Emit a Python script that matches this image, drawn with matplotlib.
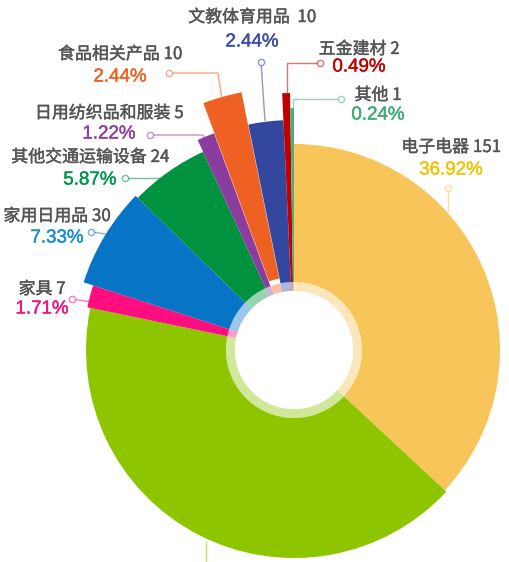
import numpy as np
import matplotlib
matplotlib.use("Agg")
import matplotlib.pyplot as plt
import matplotlib.patheffects as pe
from matplotlib.patches import Wedge, Circle
from matplotlib.colors import to_rgba

plt.rcParams['font.family'] = ['Noto Sans CJK SC', 'DejaVu Sans']

# data, clockwise from 12 o'clock
categories = ["电子电器", "家用电器", "家具", "家用日用品", "其他交通运输设备",
              "日用纺织品和服装", "食品相关产品", "文教体育用品", "五金建材", "其他"]
counts = [151, 169, 7, 30, 24, 5, 10, 10, 2, 1]
pct_labels = ["36.92%", "41.32%", "1.71%", "7.33%", "5.87%",
              "1.22%", "2.44%", "2.44%", "0.49%", "0.24%"]

# style / layout
colors = ["#F8C55B", "#8DC500", "#FF0E80", "#0874C6", "#00923F",
          "#8A3D9E", "#EE6122", "#34479E", "#C00000", "#4CAF7A"]
text_colors = ["#F2C300", "#8DC500", "#F0147E", "#1A8ED6", "#00974A",
               "#8E3FA3", "#EE6122", "#3A4EA8", "#C00000", "#3DAA72"]
outer_r = [206, 208, 211, 221, 218, 231, 258, 230, 257, 242]
explode = [0, 0, 0, 0, 0, 0, 5, 0, 0, 0]
CX, CY = 294, 350
R_SLICE = 68
R_HOLE = 59

# label centres (x, name line y, pct line y) in pixels
label_pos = {
    0: (451, 147, 170),
    2: (42, 289, 309),
    3: (57, 216, 238),
    4: (90, 157, 180),
    5: (109, 113, 134),
    6: (120, 54, 77),
    7: (252, 17, 42),
    8: (359, 49, 67),
    9: (378, 95, 115),
}
name_fmt = {7: "{}  {}"}
leaders = {
    0: [(448, 188), (448, 212)],
    1: [(206, 580), (206, 541)],
    2: [(72, 299), (92, 302)],
    3: [(91, 232), (106, 234)],
    4: [(125, 178), (164, 178)],
    5: [(150, 135), (203, 135), (206, 141)],
    6: [(169, 73), (218, 73), (222, 99)],
    7: [(261, 62), (265, 121)],
    8: [(320, 63), (287, 63), (287, 93)],
    9: [(341, 99), (293, 99), (293, 108)],
}

fig = plt.figure(figsize=(5.09, 5.62), dpi=100)
ax = fig.add_axes([0, 0, 1, 1])
ax.set_xlim(0, 509)
ax.set_ylim(562, 0)
ax.axis("off")

total = sum(counts)
start = 0.0
for i, c in enumerate(counts):
    span = 360.0 * c / total
    mid = np.deg2rad(start + span / 2)
    cx = CX + explode[i] * np.sin(mid)
    cy = CY - explode[i] * np.cos(mid)
    # y axis is inverted, so wedge angles run clockwise on screen
    w = Wedge((cx, cy), outer_r[i], start - 90, start + span - 90,
              width=outer_r[i] - R_SLICE, facecolor=colors[i], edgecolor="none",
              zorder=2)
    ax.add_patch(w)
    ring = Wedge((CX, CY), R_SLICE, start - 90, start + span - 90,
                 width=R_SLICE - R_HOLE, facecolor=to_rgba(colors[i], 0.4),
                 edgecolor="none", zorder=2)
    ax.add_patch(ring)
    start += span

ax.add_patch(Circle((CX, CY), R_HOLE, facecolor="white", edgecolor="none", zorder=3))

for i, pts in leaders.items():
    xs, ys = zip(*pts)
    lc = to_rgba(colors[i], 0.55)
    ax.plot(xs, ys, color=lc, lw=1, zorder=1, solid_capstyle="butt")
    ax.plot(xs[0], ys[0], marker="o", ms=4.5, mfc="white", mec=lc, mew=1, zorder=4)

for i, (x, yn, yp) in label_pos.items():
    fmt = name_fmt.get(i, "{} {}")
    ax.text(x, yn, fmt.format(categories[i], counts[i]), ha="center", va="center",
            fontsize=12.2, color="#555555", zorder=5,
            path_effects=[pe.withStroke(linewidth=0.3, foreground="#555555")])
    ax.text(x, yp, pct_labels[i], ha="center", va="center", fontsize=13.5,
            family=["Liberation Sans", "DejaVu Sans"],
            color=text_colors[i], zorder=5,
            path_effects=[pe.withStroke(linewidth=0.3, foreground=text_colors[i])])

fig.savefig("out.png", dpi=100, facecolor="white")
